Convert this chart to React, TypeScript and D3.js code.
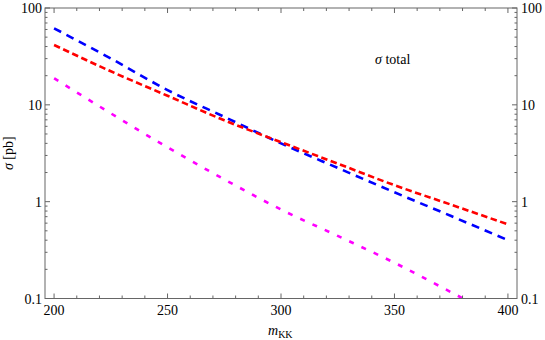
import React from 'react';
import * as d3 from 'd3';

// cross-section curves
const mass = [200, 225, 250, 275, 300, 325, 350, 375, 400];
const sigmaBlue = [61.7, 30.1, 14.2, 7.52, 4.0, 2.23, 1.25, 0.71, 0.40];
const sigmaRed = [41.5, 22.2, 12.4, 6.92, 4.12, 2.47, 1.48, 0.93, 0.583];
const sigmaMagenta = [18.8, 8.17, 3.64, 1.7, 0.83, 0.443, 0.234, 0.116, 0.057];

const xTicks = [200, 250, 300, 350, 400];
const yTicks = [0.1, 1, 10, 100];
const yTickLabels = ['0.1', '1', '10', '100'];

const width = 545;
const height = 340;
const margin = { top: 8, right: 28, bottom: 41.5, left: 45 };
const font = "'Times New Roman', 'Liberation Serif', 'DejaVu Serif', serif";
const axisColor = '#666';

const App = () => {
  const x = d3.scaleLinear()
    .domain([196, 404])
    .range([margin.left, width - margin.right]);

  const y = d3.scaleLog()
    .domain([0.1, 100])
    .range([height - margin.bottom, margin.top]);

  const line = d3.line<[number, number]>()
    .x(d => x(d[0]))
    .y(d => y(d[1]))
    .curve(d3.curveMonotoneX);

  const series = [
    { values: sigmaBlue, color: '#0000ff', dash: '8,6' },
    { values: sigmaRed, color: '#ff0000', dash: '6.5,3.5' },
    { values: sigmaMagenta, color: '#ff00ff', dash: '5,8.5' },
  ];

  const minorX = d3.range(200, 401, 10).filter(v => v % 50 !== 0);
  const minorY: number[] = [];
  [0.1, 1, 10].forEach(dec => {
    for (let k = 2; k <= 9; k++) minorY.push(dec * k);
  });

  const x0 = margin.left;
  const x1 = width - margin.right;
  const y0 = margin.top;
  const y1 = height - margin.bottom;
  const textStyle = { fontFamily: font, fontSize: 14 };

  return (
    <svg width={width} height={height} style={{ position: 'absolute', left: 0, top: 0 }}>
      <rect x={0} y={0} width={width} height={height} fill="#fff" />
      <defs>
        <clipPath id="plot-area">
          <rect x={x0} y={y0} width={x1 - x0} height={y1 - y0} />
        </clipPath>
      </defs>

      <g clipPath="url(#plot-area)">
        {series.map((s, i) => (
          <path
            key={i}
            d={line(mass.map((m, j) => [m, s.values[j]] as [number, number])) || ''}
            fill="none"
            stroke={s.color}
            strokeWidth={2.6}
            strokeDasharray={s.dash}
          />
        ))}
      </g>

      {/* frame */}
      <rect x={x0} y={y0} width={x1 - x0} height={y1 - y0} fill="none" stroke={axisColor} strokeWidth={1} />

      {/* x ticks, bottom and top */}
      {xTicks.map(v => (
        <g key={'xt' + v}>
          <line x1={x(v)} x2={x(v)} y1={y1} y2={y1 - 5} stroke={axisColor} />
          <line x1={x(v)} x2={x(v)} y1={y0} y2={y0 + 5} stroke={axisColor} />
          <text x={x(v)} y={y1 + 16} textAnchor="middle" style={textStyle}>{v}</text>
        </g>
      ))}
      {minorX.map(v => (
        <g key={'xm' + v}>
          <line x1={x(v)} x2={x(v)} y1={y1} y2={y1 - 3} stroke={axisColor} />
          <line x1={x(v)} x2={x(v)} y1={y0} y2={y0 + 3} stroke={axisColor} />
        </g>
      ))}

      {/* y ticks, left and right */}
      {yTicks.map((v, i) => (
        <g key={'yt' + v}>
          <line x1={x0} x2={x0 + 5} y1={y(v)} y2={y(v)} stroke={axisColor} />
          <line x1={x1} x2={x1 - 5} y1={y(v)} y2={y(v)} stroke={axisColor} />
          <text x={x0 - 3} y={y(v) + 5} textAnchor="end" style={textStyle}>{yTickLabels[i]}</text>
          <text x={x1 + 4} y={y(v) + 5} textAnchor="start" style={textStyle}>{yTickLabels[i]}</text>
        </g>
      ))}
      {minorY.map(v => (
        <g key={'ym' + v}>
          <line x1={x0} x2={x0 + 2.5} y1={y(v)} y2={y(v)} stroke={axisColor} />
          <line x1={x1} x2={x1 - 2.5} y1={y(v)} y2={y(v)} stroke={axisColor} />
        </g>
      ))}

      {/* axis labels */}
      <text x={x(300) - 13} y={y1 + 36} style={textStyle}>
        <tspan fontStyle="italic">m</tspan>
        <tspan fontSize={10} dy={3}>KK</tspan>
      </text>
      <text
        transform={`translate(13, ${(y0 + y1) / 2}) rotate(-90)`}
        textAnchor="middle"
        style={textStyle}
      >
        <tspan fontStyle="italic">σ</tspan> [pb]
      </text>

      <text x={375} y={64} style={textStyle}>
        <tspan fontStyle="italic">σ</tspan> total
      </text>
    </svg>
  );
};

export default App;
